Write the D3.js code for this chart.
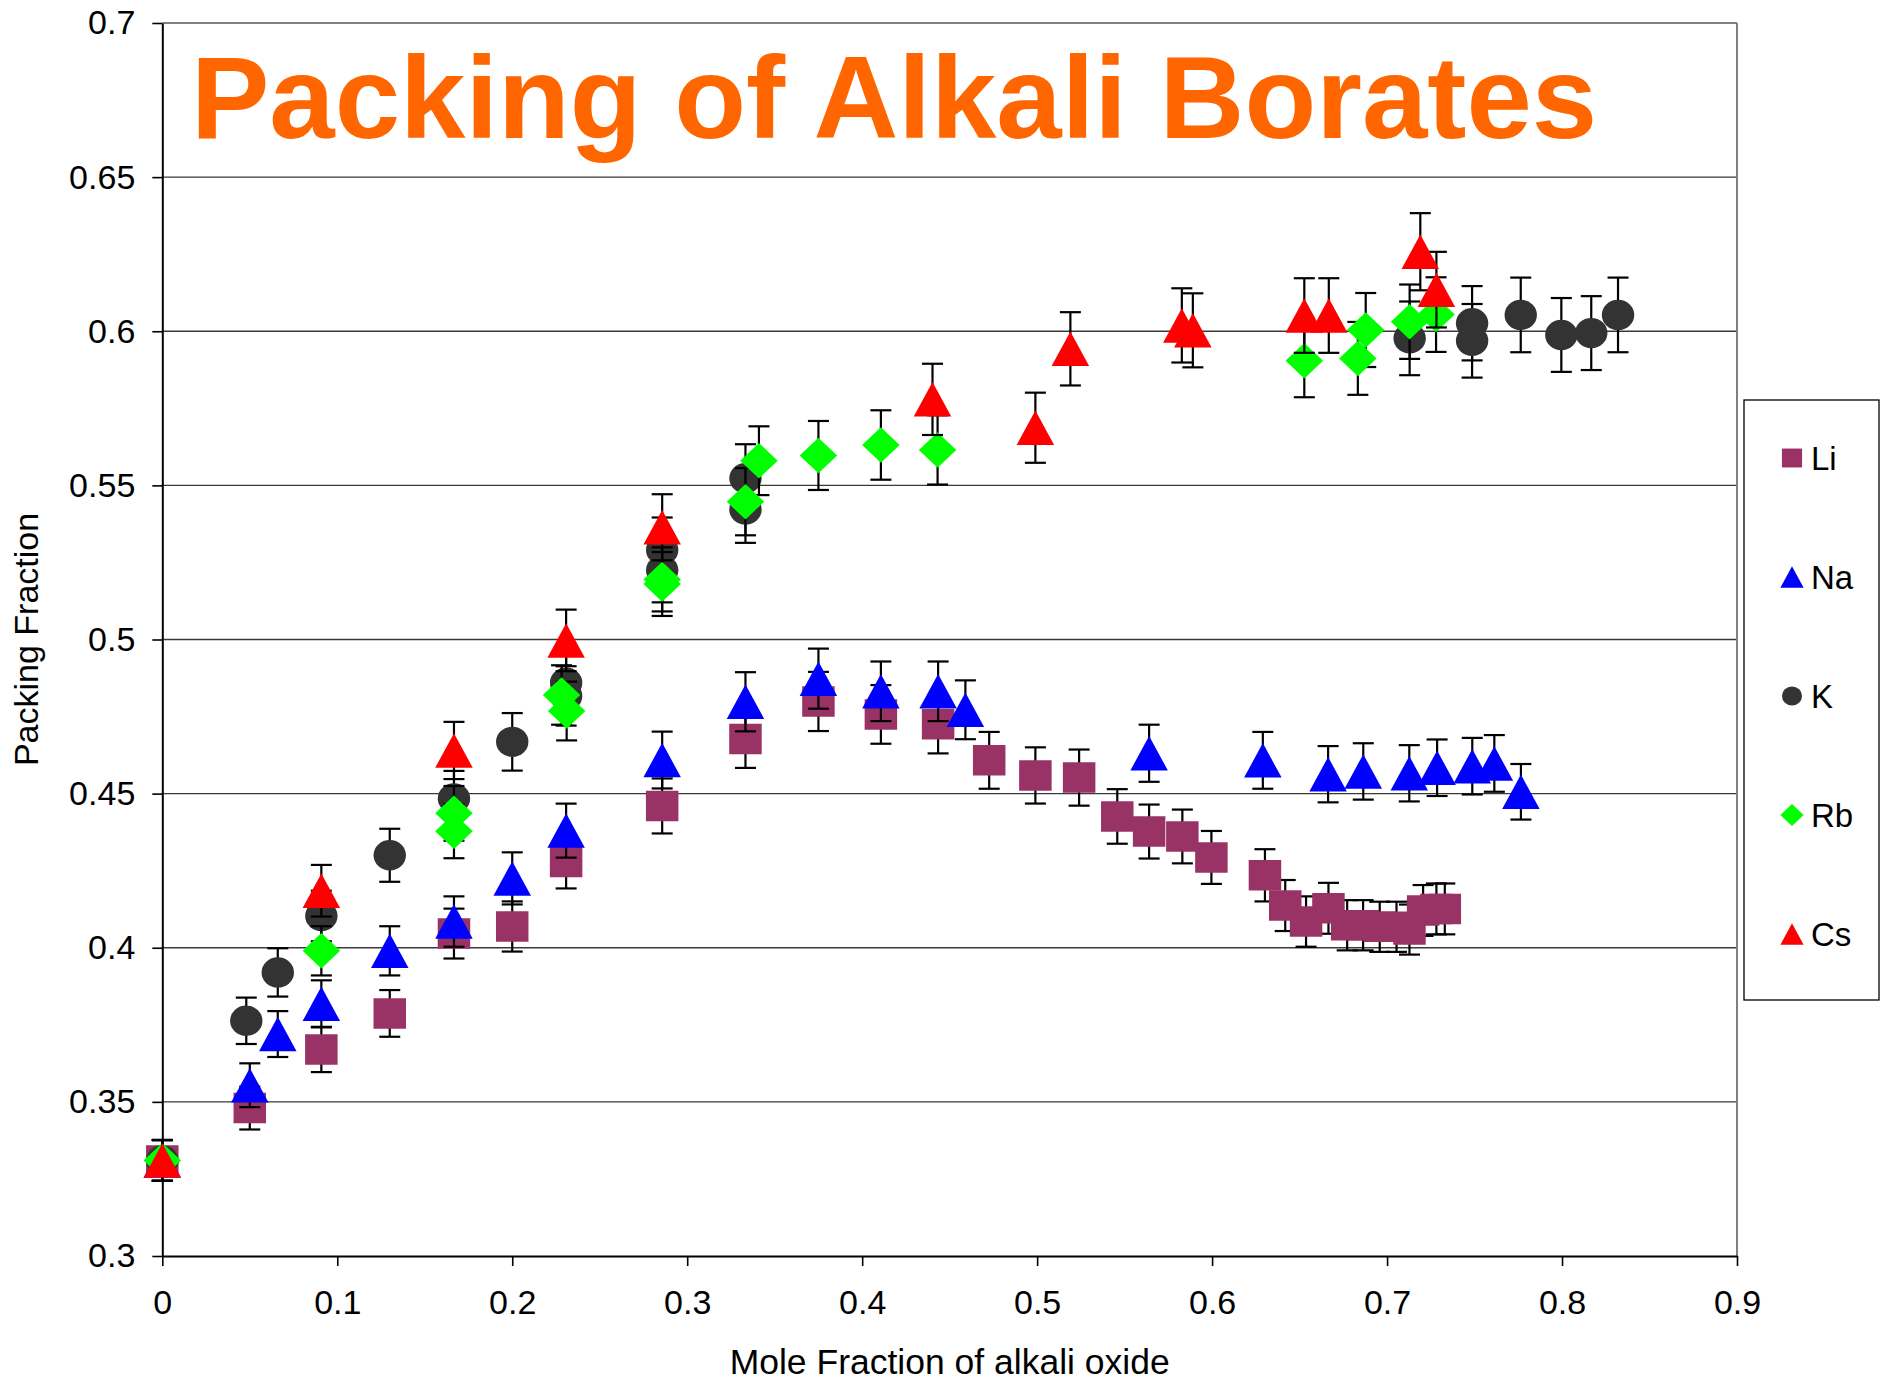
<!DOCTYPE html>
<html>
<head>
<meta charset="utf-8">
<script src="https://cdn.jsdelivr.net/npm/d3@7"></script>
<style>
  body { margin: 0; background: #fff; }
  text { font-family: "Liberation Sans", Arial, Helvetica, sans-serif; }
</style>
</head>
<body>
<svg id="chart" width="1881" height="1389"></svg>
<script>
// Mole fraction of alkali oxide (x) and packing fraction (y) per alkali
const liX = [0, 0.05, 0.0909, 0.13, 0.1667, 0.2, 0.2308, 0.2857, 0.3333, 0.375, 0.4107, 0.4434, 0.4726, 0.499, 0.524, 0.5458, 0.564, 0.583, 0.5996, 0.6302, 0.6418, 0.6537, 0.6665, 0.6772, 0.6863, 0.6958, 0.7054, 0.7128, 0.7206, 0.7282, 0.733];
const liY = [0.331, 0.348, 0.367, 0.3787, 0.4046, 0.4069, 0.4278, 0.446, 0.4677, 0.4799, 0.4757, 0.4725, 0.4608, 0.4559, 0.4552, 0.4426, 0.4377, 0.4361, 0.4293, 0.4235, 0.4137, 0.4085, 0.4128, 0.4073, 0.4073, 0.4068, 0.4068, 0.4059, 0.4121, 0.4126, 0.4126];

const naX = [0, 0.05, 0.066, 0.0909, 0.13, 0.1667, 0.2, 0.2308, 0.2857, 0.3333, 0.375, 0.4107, 0.4434, 0.459, 0.564, 0.629, 0.6663, 0.6864, 0.7127, 0.7286, 0.7487, 0.7613, 0.7765];
const naY = [0.331, 0.3554, 0.372, 0.3818, 0.399, 0.4085, 0.4225, 0.438, 0.4609, 0.4798, 0.4873, 0.4832, 0.4832, 0.4772, 0.4631, 0.4608, 0.4563, 0.4572, 0.4566, 0.4584, 0.4589, 0.4598, 0.4506];

const kX = [0, 0.048, 0.066, 0.0909, 0.13, 0.1667, 0.2, 0.2308, 0.2308, 0.2857, 0.2857, 0.3333, 0.3333, 0.7129, 0.7486, 0.7486, 0.7764, 0.7996, 0.8167, 0.832];
const kY = [0.331, 0.3763, 0.392, 0.4103, 0.430, 0.4484, 0.4668, 0.486, 0.4817, 0.529, 0.5225, 0.5523, 0.5422, 0.5977, 0.6026, 0.5969, 0.6053, 0.5988, 0.5994, 0.6053];

const rbX = [0, 0.0909, 0.1667, 0.1667, 0.2282, 0.2311, 0.2857, 0.2857, 0.3333, 0.341, 0.375, 0.4107, 0.4431, 0.6527, 0.6833, 0.6878, 0.7129, 0.728];
const rbY = [0.331, 0.399, 0.4436, 0.4378, 0.482, 0.4768, 0.5195, 0.518, 0.5447, 0.558, 0.5597, 0.5631, 0.5615, 0.5904, 0.5912, 0.6004, 0.6031, 0.6054];

const csX = [0, 0.0909, 0.1667, 0.2308, 0.2857, 0.4402, 0.499, 0.519, 0.5827, 0.589, 0.6527, 0.6667, 0.719, 0.7282];
const csY = [0.331, 0.4185, 0.464, 0.4997, 0.5364, 0.5779, 0.5687, 0.5943, 0.6019, 0.6003, 0.6051, 0.6051, 0.6258, 0.6135];

const seriesNames = ["Li", "Na", "K", "Rb", "Cs"];
const xTickValues = [0, 0.1, 0.2, 0.3, 0.4, 0.5, 0.6, 0.7, 0.8, 0.9];
const xTickLabels = ["0", "0.1", "0.2", "0.3", "0.4", "0.5", "0.6", "0.7", "0.8", "0.9"];
const yTickValues = [0.3, 0.35, 0.4, 0.45, 0.5, 0.55, 0.6, 0.65, 0.7];
const yTickLabels = ["0.3", "0.35", "0.4", "0.45", "0.5", "0.55", "0.6", "0.65", "0.7"];

// error bars are a fixed percentage of each value
const errorPercent = 0.02;

const titleText = "Packing of Alkali Borates";
const xTitle = "Mole Fraction of alkali oxide";
const yTitle = "Packing Fraction";

// ---- layout ----
const plot = { left: 162.3, right: 1737, top: 23, bottom: 1256 };

const svg = d3.select("#chart");
svg.append("rect").attr("width", 1881).attr("height", 1389).attr("fill", "#fff");

const x = d3.scaleLinear().domain([0, 0.9]).range([plot.left, plot.right]);
const y = d3.scaleLinear().domain([0.3, 0.7]).range([plot.bottom, plot.top]);

// horizontal gridlines
svg.append("g").selectAll("line")
  .data(yTickValues.filter(v => v > 0.3 && v < 0.7))
  .join("line")
  .attr("x1", plot.left).attr("x2", plot.right)
  .attr("y1", d => y(d)).attr("y2", d => y(d))
  .attr("stroke", "#3a3a3a").attr("stroke-width", 1.4);

// plot frame (top/right in gray)
svg.append("line").attr("x1", plot.left).attr("x2", plot.right)
  .attr("y1", plot.top).attr("y2", plot.top)
  .attr("stroke", "#808080").attr("stroke-width", 2);
svg.append("line").attr("x1", plot.right).attr("x2", plot.right)
  .attr("y1", plot.top).attr("y2", plot.bottom)
  .attr("stroke", "#808080").attr("stroke-width", 2);

// axes
const xAxis = d3.axisBottom(x).tickValues(xTickValues)
  .tickFormat((d, i) => xTickLabels[i]).tickSize(10).tickPadding(24).tickSizeOuter(0);
const yAxis = d3.axisLeft(y).tickValues(yTickValues)
  .tickFormat((d, i) => yTickLabels[i]).tickSize(10).tickPadding(17).tickSizeOuter(0);

const gx = svg.append("g").attr("transform", `translate(0,${plot.bottom})`).call(xAxis);
const gy = svg.append("g").attr("transform", `translate(${plot.left},0)`).call(yAxis);
[gx, gy].forEach(g => {
  g.selectAll("text").attr("font-size", 34).attr("fill", "#000")
    .attr("font-family", "'Liberation Sans', Arial, sans-serif");
  g.selectAll("line").attr("stroke", "#000").attr("stroke-width", 1.6);
  g.select(".domain").attr("stroke", "#000").attr("stroke-width", 2);
});

// axis titles
svg.append("text").attr("x", (plot.left + plot.right) / 2).attr("y", 1374)
  .attr("text-anchor", "middle").attr("font-size", 35.5).attr("fill", "#000").text(xTitle);
svg.append("text").attr("transform", `translate(38,${(plot.top + plot.bottom) / 2}) rotate(-90)`)
  .attr("text-anchor", "middle").attr("font-size", 34).attr("fill", "#000").text(yTitle);

// ---- marker shapes ----
function markerPath(shape, s) {
  // s scales the full-size marker
  switch (shape) {
    case "square": {
      const w = 32.5 * s / 2, h = 30.5 * s / 2;
      return `M${-w},${-h}H${w}V${h}H${-w}Z`;
    }
    case "triangle": {
      const w = 37.5 * s / 2, h = 34.5 * s / 2;
      return `M0,${-h}L${w},${h}L${-w},${h}Z`;
    }
    case "circle": {
      const rx = 16.2 * s, ry = 15.2 * s;
      return `M${-rx},0A${rx},${ry} 0 1,0 ${rx},0A${rx},${ry} 0 1,0 ${-rx},0Z`;
    }
    case "diamond": {
      const w = 37.5 * s / 2, h = 35.5 * s / 2;
      return `M0,${-h}L${w},0L0,${h}L${-w},0Z`;
    }
  }
}

const series = [
  { name: seriesNames[0], xs: liX, ys: liY, color: "#993366", shape: "square" },
  { name: seriesNames[1], xs: naX, ys: naY, color: "#0000FF", shape: "triangle" },
  { name: seriesNames[2], xs: kX,  ys: kY,  color: "#333333", shape: "circle" },
  { name: seriesNames[3], xs: rbX, ys: rbY, color: "#00FF00", shape: "diamond" },
  { name: seriesNames[4], xs: csX, ys: csY, color: "#FF0000", shape: "triangle" }
];

const capHalf = 10.5;
series.forEach(sr => {
  const pts = sr.xs.map((xv, i) => ({ x: xv, y: sr.ys[i] }));
  const g = svg.append("g").attr("class", "series-" + sr.name);

  // error bars
  const eb = g.append("g").attr("stroke", "#000").attr("stroke-width", 2.2).attr("fill", "none");
  pts.forEach(p => {
    const cx = x(p.x);
    const yHi = y(p.y * (1 + errorPercent));
    const yLo = y(p.y * (1 - errorPercent));
    eb.append("line").attr("x1", cx).attr("x2", cx).attr("y1", yHi).attr("y2", yLo);
    eb.append("line").attr("x1", cx - capHalf).attr("x2", cx + capHalf).attr("y1", yHi).attr("y2", yHi);
    eb.append("line").attr("x1", cx - capHalf).attr("x2", cx + capHalf).attr("y1", yLo).attr("y2", yLo);
  });

  // markers
  g.append("g").selectAll("path")
    .data(pts)
    .join("path")
    .attr("transform", d => `translate(${x(d.x)},${y(d.y)})`)
    .attr("d", markerPath(sr.shape, 1))
    .attr("fill", sr.color);
});

// ---- title ----
svg.append("text").attr("x", 191).attr("y", 138)
  .attr("font-size", 117.5).attr("font-weight", "bold").attr("fill", "#FF6600")
  .text(titleText);

// ---- legend ----
const legend = svg.append("g");
legend.append("rect").attr("x", 1744).attr("y", 400).attr("width", 135).attr("height", 600)
  .attr("fill", "#fff").attr("stroke", "#000").attr("stroke-width", 1.3);
const legendY = d3.scalePoint().domain(seriesNames).range([458, 934]);
series.forEach(sr => {
  const cy = legendY(sr.name);
  legend.append("path").attr("transform", `translate(1792,${cy})`)
    .attr("d", markerPath(sr.shape, 0.62)).attr("fill", sr.color);
  legend.append("text").attr("x", 1811).attr("y", cy).attr("dy", "0.36em")
    .attr("font-size", 33).attr("fill", "#000").text(sr.name);
});
</script>
</body>
</html>
